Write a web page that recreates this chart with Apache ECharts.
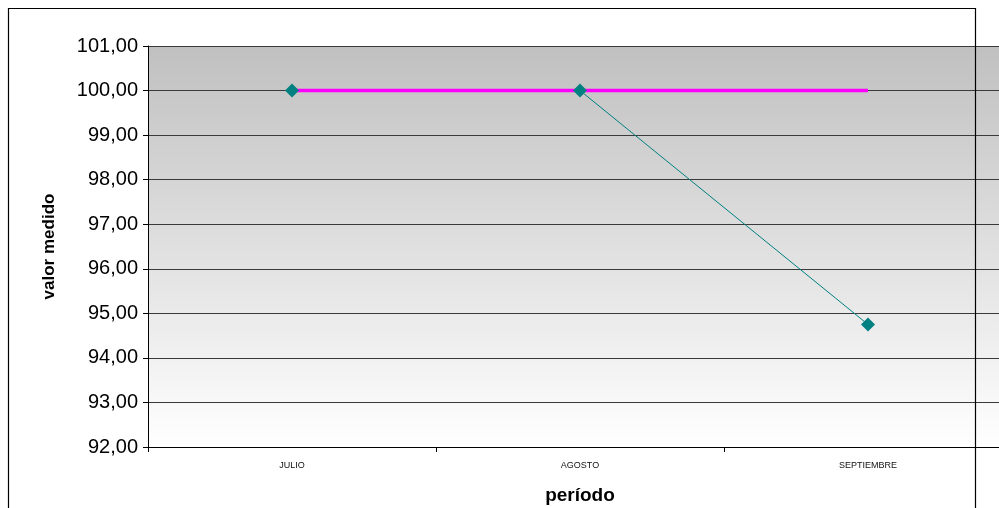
<!DOCTYPE html>
<html>
<head>
<meta charset="utf-8">
<script src="https://cdn.jsdelivr.net/npm/echarts@6/dist/echarts.min.js"></script>
<style>
  html, body { margin: 0; padding: 0; background: #ffffff; }
  #chart { width: 999px; height: 508px; }
</style>
</head>
<body>
<div id="chart"></div>
<script>
// Periods on the horizontal axis
const periodos = ['JULIO', 'AGOSTO', 'SEPTIEMBRE'];
// Target value for each period
const meta = [100, 100, 100];
// Measured value for each period
const valorMedido = [100, 100, 94.75];
// Value axis range
const yMin = 92;
const yMax = 101;
const yStep = 1;

const FONT = 'Liberation Sans, Arial, sans-serif';
const teal = '#008080';

const chart = echarts.init(document.getElementById('chart'), null, { renderer: 'canvas' });

chart.setOption({
  animation: false,
  backgroundColor: '#ffffff',
  grid: {
    left: 148,
    top: 46,
    width: 864,
    height: 401,
    outerBoundsMode: 'none',
    show: true,
    borderWidth: 0,
    backgroundColor: {
      type: 'linear', x: 0, y: 0, x2: 0, y2: 1,
      colorStops: [
        { offset: 0, color: '#c0c0c0' },
        { offset: 1, color: '#ffffff' }
      ]
    }
  },
  xAxis: {
    type: 'category',
    data: periodos,
    boundaryGap: true,
    name: 'período',
    nameLocation: 'middle',
    nameGap: 39,
    nameTextStyle: { fontFamily: FONT, fontSize: 19, fontWeight: 'bold', color: '#000' },
    axisLine: { lineStyle: { color: '#000', width: 1 } },
    axisTick: { show: true, length: 5, lineStyle: { color: '#000' } },
    axisLabel: { fontFamily: FONT, fontSize: 9, color: '#111', margin: 14 },
    splitLine: { show: false }
  },
  yAxis: {
    type: 'value',
    min: yMin,
    max: yMax,
    interval: yStep,
    name: 'valor medido',
    nameLocation: 'middle',
    nameGap: 90,
    nameTextStyle: { fontFamily: FONT, fontSize: 17, fontWeight: 'bold', color: '#000' },
    axisLine: { show: true, lineStyle: { color: '#000', width: 1 } },
    axisTick: { show: true, length: 5, lineStyle: { color: '#000' } },
    axisLabel: {
      fontFamily: FONT, fontSize: 20, color: '#000', margin: 10,
      formatter: v => v.toFixed(2).replace('.', ',')
    },
    splitLine: { show: true, lineStyle: { color: '#3a3a3a', width: 1 } }
  },
  series: [
    {
      // measured line, drawn beneath the target line
      name: 'valor medido',
      type: 'line',
      data: valorMedido,
      z: 2,
      symbol: 'none',
      lineStyle: { color: teal, width: 1 }
    },
    {
      name: 'meta',
      type: 'line',
      data: meta,
      z: 3,
      symbol: 'none',
      lineStyle: { color: '#ff00ff', width: 3.5 }
    },
    {
      // diamond markers for the measured values, on top of both lines
      name: 'valor medido (marcas)',
      type: 'line',
      data: valorMedido,
      z: 4,
      symbol: 'diamond',
      symbolSize: 14,
      itemStyle: { color: teal },
      lineStyle: { opacity: 0 }
    }
  ],
  graphic: [
    {
      type: 'rect',
      z: 100,
      shape: { x: 8.5, y: 8.5, width: 967, height: 520 },
      style: { fill: 'none', stroke: '#000', lineWidth: 1.2 }
    }
  ]
});
</script>
</body>
</html>
